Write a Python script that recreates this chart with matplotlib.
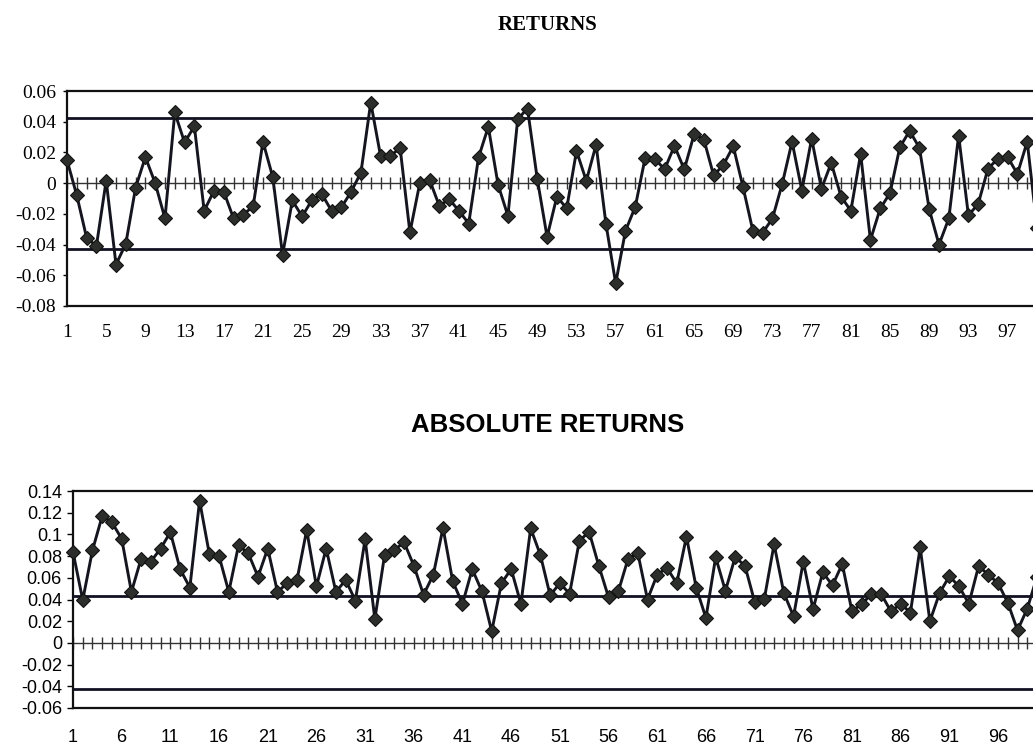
import numpy as np
import matplotlib
matplotlib.use("Agg")
import matplotlib.pyplot as plt

# ---------------- data ----------------
returns = [
    0.015, -0.008, -0.0355, -0.041, 0.0017, -0.053, -0.0395, -0.003, 0.017, 0.0,
    -0.023, 0.046, 0.0265, 0.037, -0.018, -0.005, -0.0055, -0.023, -0.0205, -0.015,
    0.027, 0.004, -0.0467, -0.0113, -0.0217, -0.011, -0.007, -0.018, -0.0158,
    -0.0056, 0.0069, 0.0525, 0.0178, 0.0178, 0.0228, -0.0321, -0.0002, 0.0022, -0.0148,
    -0.0104, -0.018, -0.0263, 0.0167, 0.0367, -0.0011, -0.0213, 0.0417, 0.0486, 0.0026,
    -0.035, -0.0087, -0.0165, 0.021, 0.0015, 0.025, -0.0263, -0.0653, -0.031, -0.0154,
    0.0163, 0.0156, 0.0091, 0.0243, 0.0089,
    0.0317, 0.0284, 0.005, 0.012, 0.024, -0.0026, -0.031, -0.0323, -0.023, -0.0004,
    0.027, -0.0048, 0.029, -0.0037, 0.0132, -0.0087, -0.018, 0.019, -0.037, -0.0165,
    -0.0065, 0.0234, 0.034, 0.023, -0.017, -0.040, -0.023, 0.031, -0.021, -0.0135,
    0.0095, 0.0158, 0.017, 0.006, 0.027, -0.029,
]
abs_returns = [
    0.0838, 0.0395, 0.0854, 0.117, 0.111, 0.096, 0.047, 0.0777, 0.075, 0.087,
    0.102, 0.068, 0.051, 0.131, 0.082, 0.080, 0.047, 0.090, 0.0826, 0.061,
    0.087, 0.047, 0.055, 0.058, 0.104, 0.052, 0.087, 0.047, 0.058,
    0.039, 0.0955, 0.022, 0.081, 0.0857, 0.0927, 0.0713, 0.0444, 0.0627, 0.106,
    0.0566, 0.036, 0.068, 0.0474, 0.0107, 0.055, 0.068, 0.036, 0.1056, 0.081,
    0.0438, 0.055, 0.0453, 0.094, 0.1025, 0.071, 0.042, 0.0474, 0.0774, 0.083,
    0.040, 0.063, 0.069, 0.055, 0.098,
    0.051, 0.023, 0.079, 0.048, 0.079, 0.0713, 0.038, 0.0407, 0.091, 0.046,
    0.0245, 0.075, 0.031, 0.065, 0.053, 0.0728, 0.029, 0.036, 0.0447, 0.045,
    0.029, 0.036, 0.028, 0.088, 0.020, 0.046, 0.0615, 0.052, 0.036, 0.0707,
    0.063, 0.055, 0.037, 0.0116, 0.0315, 0.061,
]
periods = list(range(1, len(returns) + 1))

top_title = "RETURNS"
bottom_title = "ABSOLUTE RETURNS"
top_yticks = [0.06, 0.04, 0.02, 0, -0.02, -0.04, -0.06, -0.08]
top_ylabels = ["0.06", "0.04", "0.02", "0", "-0.02", "-0.04", "-0.06", "-0.08"]
bottom_yticks = [0.14, 0.12, 0.1, 0.08, 0.06, 0.04, 0.02, 0, -0.02, -0.04, -0.06]
bottom_ylabels = ["0.14", "0.12", "0.1", "0.08", "0.06", "0.04", "0.02", "0",
                  "-0.02", "-0.04", "-0.06"]
top_band = [0.0425, -0.0428]
bottom_band = [0.0432, -0.0428]
top_label_step = 4
bottom_label_step = 5

# ---------------- figure ----------------
W, H = 1033, 751
fig = plt.figure(figsize=(W / 100, H / 100), dpi=100)
fig.patch.set_facecolor("white")

line_col = "#15151f"
mark_col = "#2b2e2b"


def px_axes(x0, x1, ytop, ybot):
    return [x0 / W, 1 - ybot / H, (x1 - x0) / W, (ybot - ytop) / H]


def draw(ax, values, band, yticks, ylabels, ylim, step, font, ysize, xsize, xpad, ypad, tlen):
    x = np.array(periods)
    ax.set_xlim(x[0], x[-1])
    ax.set_ylim(*ylim)
    for s in ax.spines.values():
        s.set_linewidth(1.6)
        s.set_color("#111111")
    # zero axis with cross ticks at each category
    ax.plot(x, np.zeros(len(x)), color="#333333", lw=1.0, marker="|",
            ms=8, mew=1.0, zorder=2, clip_on=False)
    for b in band:
        ax.axhline(b, color="#111122", lw=2.0, zorder=3)
    ax.plot(x, values, color=line_col, lw=2.1, marker="D", ms=6.8,
            mfc=mark_col, mec="#111111", mew=0.8, zorder=4, clip_on=False)
    ax.set_yticks(yticks)
    ax.set_yticklabels(ylabels, fontfamily=font, fontsize=ysize)
    ax.set_xticks(x[::step])
    ax.set_xticklabels([str(v) for v in x[::step]], fontfamily=font, fontsize=xsize)
    ax.tick_params(axis="x", length=0, pad=xpad)
    ax.tick_params(axis="y", direction="out", length=tlen, width=1.0, pad=ypad)


ax1 = fig.add_axes(px_axes(67, 1037, 91, 306))
draw(ax1, returns, top_band, top_yticks, top_ylabels, (-0.08, 0.06),
     top_label_step, "Liberation Serif", 14, 14, 13, 5, 3)

ax2 = fig.add_axes(px_axes(73, 1037, 491, 708))
draw(ax2, abs_returns, bottom_band, bottom_yticks, bottom_ylabels, (-0.06, 0.14),
     bottom_label_step, "Liberation Sans", 13, 13, 15, 4, 4)

fig.text(548 / W, 1 - 25 / H, top_title, ha="center", va="center",
         fontfamily="Liberation Serif", fontweight="bold", fontsize=15)
fig.text(548 / W, 1 - 425 / H, bottom_title, ha="center", va="center",
         fontfamily="Liberation Sans", fontweight="bold", fontsize=18.5)

fig.savefig("out.png", dpi=100, facecolor="white")
